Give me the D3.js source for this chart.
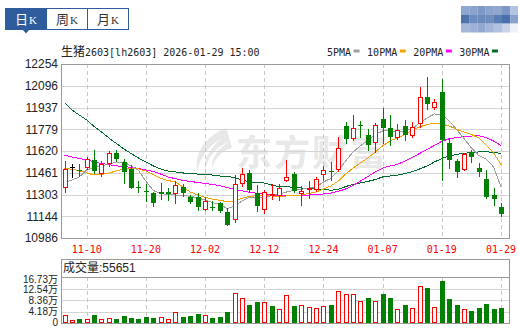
<!DOCTYPE html>
<html>
<head>
<meta charset="utf-8">
<script src="https://cdn.jsdelivr.net/npm/d3@7"></script>
<style>
body { margin: 0; background: #fff; }
svg { display: block; }
text { font-family: "Liberation Sans", Arial, "Noto Sans CJK SC", sans-serif; }
.mono { font-family: "DejaVu Sans Mono", "Liberation Mono", "Noto Sans CJK SC", monospace; }
</style>
</head>
<body>
<svg id="chart" width="518" height="329"></svg>
<script>
// trading days shown
const dates = ["11-05","11-06","11-07","11-10","11-11","11-12","11-13","11-14","11-17","11-18",
  "11-19","11-20","11-21","11-24","11-25","11-26","11-27","11-28","12-01","12-02",
  "12-03","12-04","12-05","12-08","12-09","12-10","12-11","12-12","12-15","12-16",
  "12-17","12-18","12-19","12-22","12-23","12-24","12-25","12-26","12-29","12-30",
  "12-31","01-05","01-06","01-07","01-08","01-09","01-12","01-13","01-14","01-15",
  "01-16","01-19","01-20","01-21","01-22","01-23","01-26","01-27","01-28","01-29"];
const tickDates = ["11-10","11-20","12-02","12-12","12-24","01-07","01-19","01-29"];

const open = [11360,11500,11478,11500,11554,11460,11536,11609,11542,11487,
  11361,11329,11312,11318,11320,11312,11360,11283,11287,11195,
  11212,11239,11178,11124,11385,11462,11316,11195,11296,11299,
  11409,11456,11316,11345,11345,11450,11474,11487,11802,11713,
  11806,11737,11688,11853,11785,11724,11802,11737,11822,12011,
  11938,12048,11676,11547,11487,11615,11494,11416,11299,11210];
const high = [11549,11525,11525,11578,11627,11547,11620,11627,11560,11518,
  11401,11376,11323,11385,11354,11401,11380,11299,11312,11285,
  11256,11248,11202,11445,11494,11482,11372,11339,11380,11376,
  11551,11469,11365,11401,11433,11514,11542,11724,11834,11882,
  11839,11778,11822,11931,11882,11817,11846,11834,12089,12157,
  11997,12143,11713,11560,11603,11627,11530,11482,11348,11243];
const low = [11323,11433,11438,11489,11460,11438,11511,11547,11389,11350,
  11321,11252,11221,11268,11263,11241,11292,11243,11190,11187,
  11190,11175,11081,11106,11365,11329,11185,11165,11270,11263,
  11401,11318,11230,11275,11331,11409,11409,11471,11676,11700,
  11724,11627,11615,11676,11664,11705,11700,11724,11793,11924,
  11924,11409,11494,11433,11485,11542,11438,11275,11227,11146];
const close = [11487,11500,11471,11562,11474,11522,11606,11562,11469,11353,
  11348,11318,11243,11305,11310,11369,11316,11248,11210,11258,
  11205,11185,11081,11383,11450,11336,11219,11323,11305,11348,
  11434,11325,11328,11350,11414,11485,11467,11640,11711,11785,
  11799,11664,11810,11785,11724,11773,11737,11793,12011,11960,
  11979,11700,11554,11469,11596,11574,11469,11287,11270,11161];
const volume = [30600,12400,13400,15800,28000,15800,19600,13400,24400,17000,
  13400,20800,17000,23300,15800,41500,20800,24400,31600,30600,
  17000,20800,39000,110600,92400,64400,75300,77800,60700,52400,
  103300,60700,66900,59600,56000,63300,64400,117800,106900,106900,
  81500,89800,81500,104400,89800,52400,64400,56000,136000,126200,
  59600,152800,86200,64400,49800,42600,53500,68000,51000,55651];

// moving averages as drawn
const ma5 = [11389,11409,11431,11482,11500,11509,11528,11536,11540,11511,
  11478,11401,11332,11310,11302,11299,11296,11290,11278,11263,
  11245,11230,11201,11219,11256,11283,11283,11285,11294,11307,
  11321,11332,11341,11350,11358,11394,11420,11474,11547,11613,
  11657,11700,11740,11766,11766,11755,11769,11786,11824,11861,
  11890,11886,11839,11777,11711,11642,11587,11560,11504,11358];
const ma10 = [11494,11487,11476,11460,11445,11449,11460,11474,11489,11493,
  11489,11474,11449,11420,11405,11394,11358,11321,11299,11283,
  11270,11261,11250,11256,11275,11289,11294,11294,11292,11292,
  11292,11296,11299,11310,11321,11343,11365,11401,11452,11496,
  11533,11569,11613,11657,11693,11715,11740,11773,11795,11813,
  11822,11817,11802,11778,11759,11740,11715,11664,11606,11522];
const ma20 = [11589,11576,11565,11555,11540,11529,11520,11512,11507,11501,
  11493,11482,11471,11452,11431,11418,11405,11398,11391,11383,
  11376,11367,11354,11341,11330,11319,11312,11307,11301,11296,
  11292,11294,11297,11299,11302,11307,11314,11326,11343,11369,
  11401,11434,11467,11496,11511,11522,11547,11573,11602,11631,
  11660,11691,11709,11718,11725,11729,11731,11718,11693,11660];
const ma30 = [11972,11919,11882,11846,11799,11759,11715,11675,11635,11602,
  11569,11540,11511,11489,11474,11467,11460,11456,11452,11449,
  11445,11438,11434,11427,11409,11394,11391,11387,11372,11361,
  11360,11355,11350,11345,11343,11340,11334,11340,11361,11376,
  11387,11398,11412,11431,11438,11444,11456,11469,11489,11511,
  11540,11565,11584,11595,11603,11609,11613,11615,11609,11603];

const priceTicks = [10986,11144,11303,11461,11620,11779,11937,12096,12254];
const volTicks = [0,41800,83600,125400,167300];
const volTickLabels = ["0","4.18万","8.36万","12.54万","16.73万"];
const maNames = ["5PMA","10PMA","20PMA","30PMA"];
const maColors = ["#a0a0a0","#f5a300","#ff00ff","#006a2e"];
const tabNames = ["日","周","月"];

const RED = "#ff0000", GREEN = "#008000", GRID = "#d4d4d4", BORDER = "#999", BLUE = "#2f5c9c";
const plot = {left: 61, right: 510, top: 64, bottom: 238};
const vol = {top: 259, head: 277, bottom: 323};

const svg = d3.select("#chart");

const x = d3.scalePoint().domain(dates).range([plot.left + 3.5, plot.right - 9]);
const y = d3.scaleLinear().domain([priceTicks[0], priceTicks[priceTicks.length - 1]]).range([plot.bottom, plot.top]);
const vy = d3.scaleLinear().domain([0, volTicks[volTicks.length - 1]]).range([vol.bottom, vol.head]);
const px = d => Math.round(x(d));

// ---- tabs
const tabs = svg.append("g");
tabNames.forEach((t, k) => {
  const tx = 5 + k * 41;
  tabs.append("rect").attr("x", tx + 0.5).attr("y", 8.5).attr("width", 41).attr("height", 21)
    .attr("fill", k === 0 ? BLUE : "#fff").attr("stroke", BLUE);
  const tt = tabs.append("text").attr("x", tx + 10).attr("y", 24)
    .attr("fill", k === 0 ? "#fff" : "#333");
  tt.append("tspan").style("font-family", "'Noto Sans CJK SC'").style("font-size", "13px").text(t);
  tt.append("tspan").style("font-family", "'Liberation Serif'").style("font-size", "11px").attr("dx", 1).text("K");
});
tabs.append("path").attr("d", "M22.5,29.5L29.5,29.5L26,33.5Z").attr("fill", BLUE);

// blurred badge top right
const mosaic = [
  ["#8fa6cf","#8aa2cd","#7e98c7","#8ba2cd","#91a7cf","#7d97c6","#b3c3e0"],
  ["#4e74ae","#6d8cbe","#6c8bbd","#6e8dbe","#5b7db5","#4a70ab","#8aa1cc"],
  ["#a5b7d9","#9db0d5","#92a8d0","#a3b5d8","#b1c1df","#c9d4ea","#eef2f8"]];
mosaic.forEach((row, r) => row.forEach((c, k) => {
  svg.append("rect").attr("x", 461 + k * 8.2).attr("y", 6 + r * 8.8)
    .attr("width", 8.3).attr("height", 8.9).attr("fill", c);
}));

// ---- header
const head = svg.append("text").attr("class", "mono").attr("x", 61).attr("y", 55.5)
  .style("font-size", "10px").attr("fill", "#222");
head.append("tspan").style("font-family", "'Noto Sans CJK SC'").style("font-size", "12px").text("生猪");
head.append("tspan").text("2603[lh2603] 2026-01-29 15:00");

let lx = 327;
maNames.forEach((n, k) => {
  const t = svg.append("text").attr("class", "mono").attr("x", lx).attr("y", 55.5)
    .style("font-size", "10px").attr("fill", "#222").text(n);
  const w = t.node().getComputedTextLength();
  svg.append("rect").attr("x", lx + w + 2.5).attr("y", 49.5).attr("width", 6).attr("height", 3)
    .attr("fill", maColors[k]);
  lx += w + 16;
});

// ---- main grid
const grid = svg.append("g");
grid.selectAll("line.h").data(priceTicks.slice(1, -1)).join("line")
  .attr("x1", plot.left).attr("x2", plot.right)
  .attr("y1", d => Math.round(y(d)) + 0.5).attr("y2", d => Math.round(y(d)) + 0.5)
  .attr("stroke", GRID);

// watermark
const wm = svg.append("g").attr("fill", "#e8e8e8");
wm.append("path").attr("d", "M226,128 C206,136 194,152 197,172 C200,158 208,146 222,138 C210,148 203,160 205,170 C209,154 218,146 229,142 C218,148 211,158 212,168 C216,156 224,150 232,148 C230,140 228,133 226,128 Z");
wm.append("text").attr("x", 236).attr("y", 166)
  .style("font-family", "'Noto Sans CJK SC'").style("font-size", "36px").style("font-weight", "bold")
  .attr("letter-spacing", 2).text("东方财富");

grid.raise();
svg.append("g").selectAll("line").data(tickDates).join("line")
  .attr("x1", d => px(d) + 0.5).attr("x2", d => px(d) + 0.5)
  .attr("y1", plot.top).attr("y2", plot.bottom)
  .attr("stroke", "#c8c8c8").attr("stroke-dasharray", "4,3");

// ---- moving average lines
svg.append("defs").append("clipPath").attr("id", "clip").append("rect")
  .attr("x", plot.left).attr("y", plot.top)
  .attr("width", plot.right - plot.left).attr("height", plot.bottom - plot.top);
const line = d3.line().x((d, i) => x(dates[i])).y(d => y(d));
svg.append("g").attr("clip-path", "url(#clip)").selectAll("path")
  .data([ma30, ma20, ma10, ma5]).join("path")
  .attr("d", line).attr("fill", "none")
  .attr("stroke", (d, k) => maColors[3 - k]).attr("stroke-width", 1)
  .style("shape-rendering", "crispEdges");

// ---- candles
const bars = dates.map((d, i) => ({d, o: open[i], h: high[i], l: low[i], c: close[i], v: volume[i],
  up: i === 0 ? close[i] >= open[i] : close[i] >= close[i - 1]}));
const candleColor = b => b.c > b.o ? RED : (b.c < b.o ? GREEN : "#000");

const cg = svg.append("g").selectAll("g").data(bars).join("g");
cg.append("line")
  .attr("x1", b => px(b.d) + 0.5).attr("x2", b => px(b.d) + 0.5)
  .attr("y1", b => Math.round(y(b.h))).attr("y2", b => Math.round(y(b.l)) + 1)
  .attr("stroke", candleColor);
cg.filter(b => b.c > b.o).append("rect")
  .attr("x", b => px(b.d) - 1.5).attr("y", b => Math.round(y(b.c)) + 0.5)
  .attr("width", 4).attr("height", b => Math.max(1, Math.round(y(b.o)) - Math.round(y(b.c))))
  .attr("fill", "#fff").attr("stroke", RED);
cg.filter(b => b.c < b.o).append("rect")
  .attr("x", b => px(b.d) - 2).attr("y", b => Math.round(y(b.o)))
  .attr("width", 5).attr("height", b => Math.max(1, Math.round(y(b.c)) - Math.round(y(b.o))))
  .attr("fill", GREEN);
cg.filter(b => b.c === b.o).append("line")
  .attr("x1", b => px(b.d) - 2).attr("x2", b => px(b.d) + 3)
  .attr("y1", b => Math.round(y(b.c)) + 0.5).attr("y2", b => Math.round(y(b.c)) + 0.5)
  .attr("stroke", "#000");

// main frame
svg.append("rect").attr("x", plot.left + 0.5).attr("y", plot.top + 0.5)
  .attr("width", plot.right - plot.left - 1).attr("height", plot.bottom - plot.top)
  .attr("fill", "none").attr("stroke", BORDER);

// y labels
svg.append("g").selectAll("text").data(priceTicks).join("text")
  .attr("x", 58).attr("y", d => y(d)).attr("dy", "0.36em")
  .attr("text-anchor", "end").style("font-size", "12px").attr("fill", "#222")
  .text(d => d);

// x labels
svg.append("g").selectAll("text").data(tickDates).join("text")
  .attr("class", "mono").attr("x", d => x(d)).attr("y", 252.5)
  .attr("text-anchor", "middle").style("font-size", "10px").attr("fill", RED)
  .text(d => d);

// ---- volume panel
const vg = svg.append("g");
vg.selectAll("line.h").data(volTicks.slice(1, -1)).join("line")
  .attr("x1", plot.left).attr("x2", plot.right)
  .attr("y1", d => Math.round(vy(d)) + 0.5).attr("y2", d => Math.round(vy(d)) + 0.5)
  .attr("stroke", GRID);
vg.selectAll("line.v").data(tickDates).join("line")
  .attr("x1", d => px(d) + 0.5).attr("x2", d => px(d) + 0.5)
  .attr("y1", vol.head).attr("y2", vol.bottom)
  .attr("stroke", "#c8c8c8").attr("stroke-dasharray", "4,3");

vg.selectAll("rect.vr").data(bars.filter(b => b.up)).join("rect")
  .attr("x", b => px(b.d) - 1.5).attr("y", b => Math.round(vy(b.v)) + 0.5)
  .attr("width", 4).attr("height", b => vol.bottom - Math.round(vy(b.v)) - 1)
  .attr("fill", "#fff").attr("stroke", RED);
vg.selectAll("rect.vg").data(bars.filter(b => !b.up)).join("rect")
  .attr("x", b => px(b.d) - 2).attr("y", b => Math.round(vy(b.v)))
  .attr("width", 5).attr("height", b => vol.bottom - Math.round(vy(b.v)))
  .attr("fill", GREEN);

vg.append("rect").attr("x", plot.left + 0.5).attr("y", vol.top + 0.5)
  .attr("width", plot.right - plot.left - 1).attr("height", vol.bottom - vol.top)
  .attr("fill", "none").attr("stroke", BORDER);
vg.append("line").attr("x1", plot.left).attr("x2", plot.right)
  .attr("y1", vol.head + 0.5).attr("y2", vol.head + 0.5).attr("stroke", BORDER);

const vt = vg.append("text").attr("x", 63).attr("y", 272).style("font-size", "12px").attr("fill", "#222");
vt.append("tspan").style("font-family", "'Noto Sans CJK SC'").text("成交量");
vt.append("tspan").text(":" + volume[volume.length - 1]);

// volume labels are squeezed into the panel, spaced evenly from top to bottom
const vlab = d3.scaleLinear().domain([0, volTicks[volTicks.length - 1]]).range([vol.bottom - 1, vol.head + 2]);
vg.selectAll("text.vl").data(volTicks).join("text")
  .attr("x", 58).attr("y", d => vlab(d)).attr("dy", "0.36em")
  .attr("text-anchor", "end").style("font-size", "10px").attr("fill", "#222")
  .text((d, i) => volTickLabels[i]);
</script>
</body>
</html>
